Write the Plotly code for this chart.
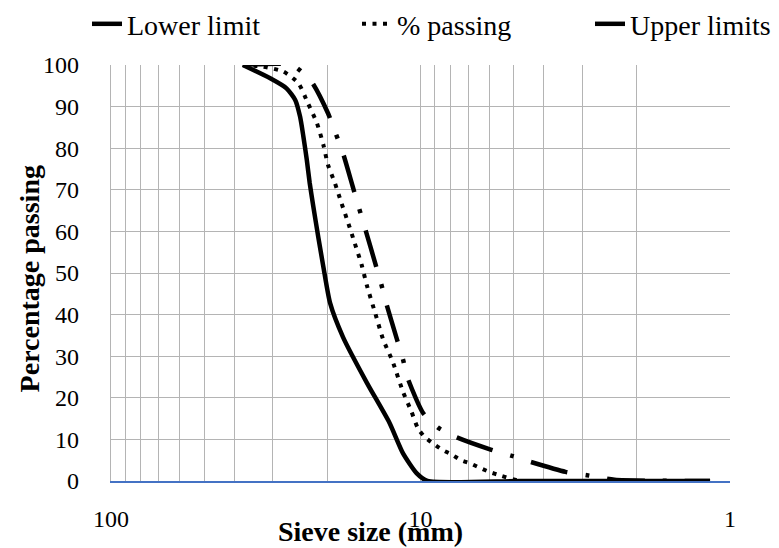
import plotly.graph_objects as go

# ---- data ----
sieve_lower = [37.5, 30.6, 27.1, 25.4, 24.5, 23.9, 23.3, 22.8, 22.2, 21.4, 20.6, 19.6,
               17.8, 14.9, 12.6, 11.4, 10.3, 9.5, 4.75, 2.36, 1.16]
lower_limit = [100, 96.8, 94.4, 91.6, 87.6, 82.8, 77.2, 71.6, 66.0, 58.7, 51.5, 42.8,
               34.6, 23.6, 14.0, 6.7, 1.9, 0, 0, 0, 0]

sieve_pass = [37.5, 32.2, 27.7, 24.8, 23.1, 21.6, 20.6, 19.9, 18.9, 18.0, 17.1, 16.3,
              15.5, 14.9, 14.0, 13.2, 12.3, 11.4, 10.7, 10.2, 9.7, 9.1, 8.5, 7.9,
              7.4, 6.9, 6.4, 6.0, 5.5, 4.75, 2.36, 1.16]
pct_passing = [100, 99.6, 98.4, 95.6, 90.8, 86.0, 80.8, 76.0, 71.6, 66.8, 61.9, 57.1,
               52.0, 47.0, 40.3, 34.0, 28.7, 21.5, 16.7, 12.7, 10.6, 9.0, 7.5, 6.3,
               5.0, 4.2, 3.1, 2.2, 1.3, 0, 0, 0]

sieve_upper = [37.5, 26.0, 22.5, 19.9, 18.8, 17.8, 16.5, 15.8, 15.1, 14.0, 13.4, 12.9,
               11.9, 11.4, 11.0, 9.8, 8.8, 7.7, 5.9, 5.1, 4.5, 3.4, 2.9, 2.36, 1.16]
upper_limits = [100, 100, 96.0, 88.4, 83.6, 78.8, 70.4, 65.6, 60.7, 52.3, 47.4, 42.7,
                33.9, 29.3, 24.7, 16.3, 12.9, 10.6, 7.5, 6.1, 4.8, 2.2, 1.4, 0.3, 0]

x_major_ticks = [100, 10, 1]
x_major_text = ["100", "10", "1"]
x_minor_ticks = [90, 80, 70, 60, 50, 40, 30, 20, 9, 8, 7, 6, 5, 4, 3, 2]
y_ticks = [0, 10, 20, 30, 40, 50, 60, 70, 80, 90, 100]

FONT = '"Liberation Serif", "Times New Roman", serif'
GRID = "#B4B4B4"

fig = go.Figure()
fig.add_trace(go.Scatter(
    x=sieve_lower, y=lower_limit, mode="lines", name="Lower limit",
    line=dict(color="black", width=4.5, shape="spline", smoothing=0.6),
    legend="legend", showlegend=True))
fig.add_trace(go.Scatter(
    x=sieve_pass, y=pct_passing, mode="lines", name="% passing",
    line=dict(color="black", width=4, dash="4px,6.5px", shape="spline", smoothing=0.6),
    legend="legend2", showlegend=True))
fig.add_trace(go.Scatter(
    x=sieve_upper, y=upper_limits, mode="lines", name="Upper limits",
    line=dict(color="black", width=4.5, dash="38px,18px,4px,18px", shape="spline", smoothing=0.6),
    legend="legend3", showlegend=True))

leg_common = dict(orientation="h", xref="container", yref="container",
                  yanchor="middle", y=0.956, xanchor="left",
                  bgcolor="rgba(0,0,0,0)", borderwidth=0,
                  font=dict(family=FONT, size=28, color="black"),
                  itemclick=False, itemdoubleclick=False)

fig.update_layout(
    width=779, height=548,
    showlegend=True,
    margin=dict(l=111, r=49, t=65, b=67, autoexpand=False),
    paper_bgcolor="white", plot_bgcolor="white",
    font=dict(family=FONT, color="black"),
    legend=dict(x=87 / 779, **leg_common),
    legend2=dict(x=357 / 779, **leg_common),
    legend3=dict(x=590 / 779, **leg_common),
    xaxis=dict(
        type="log", range=[2, 0],
        tickmode="array", tickvals=x_major_ticks, ticktext=x_major_text,
        ticks="", ticklabelstandoff=15,
        tickfont=dict(family=FONT, size=24, color="black"),
        showgrid=True, gridcolor=GRID, gridwidth=1.3,
        minor=dict(tickmode="array", tickvals=x_minor_ticks, showgrid=True,
                   gridcolor=GRID, gridwidth=1.3, ticks=""),
        showline=True, linecolor="#4472C4", linewidth=1.5,
        layer="below traces", zeroline=False, automargin=False),
    yaxis=dict(
        range=[0, 100], tickmode="array", tickvals=y_ticks,
        ticks="", ticklabelstandoff=26,
        tickfont=dict(family=FONT, size=24, color="black"),
        showgrid=True, gridcolor=GRID, gridwidth=1.3,
        showline=True, linecolor=GRID, linewidth=1.3,
        layer="below traces", zeroline=False, automargin=False),
    annotations=[
        dict(text="<b>Sieve size (mm)</b>", xref="paper", yref="paper",
             x=0.419, y=-0.1216, xanchor="center", yanchor="middle", showarrow=False,
             font=dict(family=FONT, size=28, color="black")),
        dict(text="<b>Percentage passing</b>", xref="paper", yref="paper",
             x=-0.1325, y=0.487, xanchor="center", yanchor="middle", showarrow=False,
             textangle=-90, font=dict(family=FONT, size=28, color="black")),
    ],
)

fig.write_html("out.html")
